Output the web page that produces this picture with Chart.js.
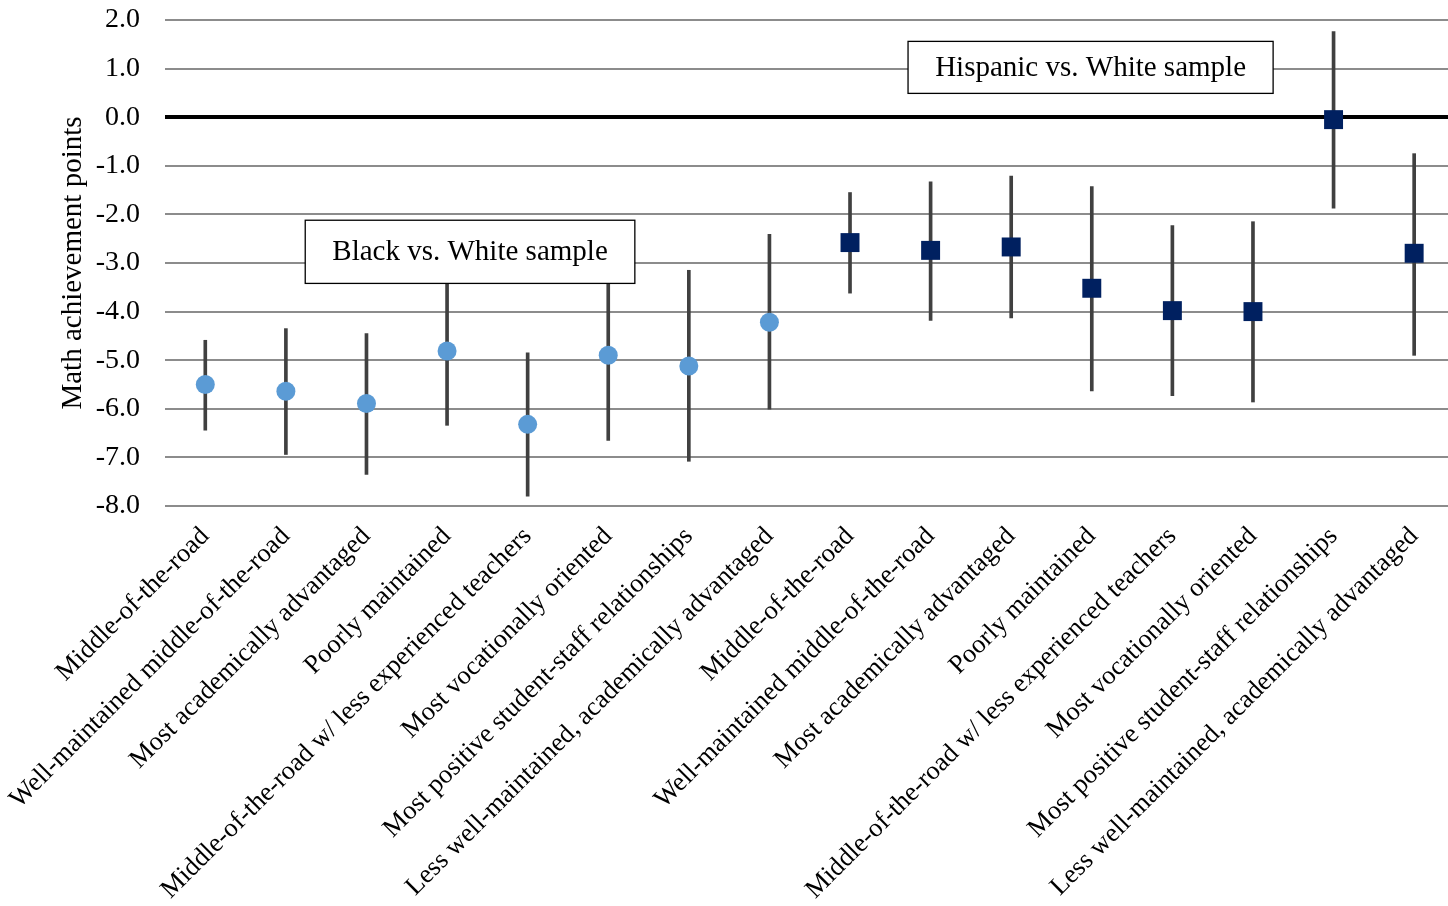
<!DOCTYPE html>
<html>
<head>
<meta charset="utf-8">
<script src="https://cdn.jsdelivr.net/npm/chart.js@4.4.1/dist/chart.umd.min.js"></script>
<style>
  html, body { margin: 0; padding: 0; background: #ffffff; overflow: hidden; }
  #wrap { width: 1448px; height: 906px; position: relative; }
</style>
</head>
<body>
<div id="wrap"><canvas id="chart" width="1448" height="906"></canvas></div>
<script>
// School profile categories (first eight: Black vs. White sample, last eight: Hispanic vs. White sample)
const categories = [
  'Middle-of-the-road',
  'Well-maintained middle-of-the-road',
  'Most academically advantaged',
  'Poorly maintained',
  'Middle-of-the-road w/ less experienced teachers',
  'Most vocationally oriented',
  'Most positive student-staff relationships',
  'Less well-maintained, academically advantaged',
  'Middle-of-the-road',
  'Well-maintained middle-of-the-road',
  'Most academically advantaged',
  'Poorly maintained',
  'Middle-of-the-road w/ less experienced teachers',
  'Most vocationally oriented',
  'Most positive student-staff relationships',
  'Less well-maintained, academically advantaged'
];

// Black vs. White gap estimates and confidence bounds
const blackEstimate = [-5.50, -5.64, -5.89, -4.81, -6.32, -4.90, -5.12, -4.22];
const blackLower    = [-6.44, -6.94, -7.35, -6.34, -7.80, -6.65, -7.08, -6.01];
const blackUpper    = [-4.59, -4.35, -4.45, -3.28, -4.85, -3.15, -3.15, -2.41];

// Hispanic vs. White gap estimates and confidence bounds
const hispanicEstimate = [-2.58, -2.74, -2.67, -3.52, -3.98, -4.00, -0.05, -2.80];
const hispanicLower    = [-3.62, -4.18, -4.13, -5.63, -5.73, -5.86, -1.87, -4.90];
const hispanicUpper    = [-1.55, -1.33, -1.21, -1.43, -2.23, -2.15,  1.76, -0.75];

// Value axis ticks
const yTicks = [2, 1, 0, -1, -2, -3, -4, -5, -6, -7, -8];

const SERIF = "'Liberation Serif', 'Times New Roman', serif";

const blackPoints = blackEstimate.map((v, i) => ({ x: i, y: v }));
const hispanicPoints = hispanicEstimate.map((v, i) => ({ x: i + blackEstimate.length, y: v }));
const intervals = blackLower.map((lo, i) => ({ x: i, y: [lo, blackUpper[i]] }))
  .concat(hispanicLower.map((lo, i) => ({ x: i + blackLower.length, y: [lo, hispanicUpper[i]] })));

// Labelled sample boxes, placed in axis units
const sampleBoxes = [
  { text: 'Black vs. White sample',    x0: 1.24, x1: 5.33,  y0: -2.12, y1: -3.42 },
  { text: 'Hispanic vs. White sample', x0: 8.72, x1: 13.25, y0: 1.56,  y1: 0.49 }
];

const sampleBoxPlugin = {
  id: 'sampleBoxes',
  afterDatasetsDraw(chart) {
    const { ctx, scales: { x, y } } = chart;
    ctx.save();
    sampleBoxes.forEach(b => {
      const left = x.getPixelForValue(b.x0), right = x.getPixelForValue(b.x1);
      const top = y.getPixelForValue(b.y0), bottom = y.getPixelForValue(b.y1);
      ctx.fillStyle = '#ffffff';
      ctx.fillRect(left, top, right - left, bottom - top);
      ctx.strokeStyle = '#000000';
      ctx.lineWidth = 1.3;
      ctx.strokeRect(left, top, right - left, bottom - top);
      ctx.fillStyle = '#000000';
      ctx.font = '29px ' + SERIF;
      ctx.textAlign = 'center';
      ctx.textBaseline = 'middle';
      ctx.fillText(b.text, (left + right) / 2, (top + bottom) / 2 + 1);
    });
    ctx.restore();
  }
};

new Chart(document.getElementById('chart'), {
  type: 'bar',
  data: {
    datasets: [
      {
        type: 'scatter',
        label: 'Black vs. White',
        data: blackPoints,
        pointStyle: 'circle',
        pointRadius: 9.5,
        pointHoverRadius: 9.5,
        backgroundColor: '#5B9BD5',
        borderWidth: 0,
        order: 0
      },
      {
        type: 'scatter',
        label: 'Hispanic vs. White',
        data: hispanicPoints,
        pointStyle: 'rect',
        pointRadius: 13.4,
        pointHoverRadius: 13.4,
        backgroundColor: '#002060',
        borderWidth: 0,
        order: 0
      },
      {
        type: 'bar',
        label: 'Confidence interval',
        data: intervals,
        backgroundColor: '#404040',
        borderWidth: 0,
        barThickness: 3,
        order: 1
      }
    ]
  },
  options: {
    responsive: false,
    animation: false,
    devicePixelRatio: 1,
    layout: { autoPadding: false, padding: { top: 20, right: 0, bottom: 0, left: 0 } },
    plugins: {
      legend: { display: false },
      tooltip: { enabled: false }
    },
    scales: {
      x: {
        type: 'linear',
        offset: false,
        min: -0.5,
        max: 15.42,
        grid: { display: false, drawTicks: false, offset: false },
        border: { display: false },
        afterBuildTicks: scale => { scale.ticks = categories.map((_, i) => ({ value: i })); },
        afterFit: scale => {
          scale.height = 400;
          scale.paddingLeft = 0;
          scale.paddingRight = 0;
        },
        ticks: {
          autoSkip: false,
          minRotation: 45,
          maxRotation: 45,
          padding: 15,
          color: '#000000',
          font: { family: SERIF, size: 26.5 },
          callback: value => categories[value]
        }
      },
      y: {
        min: -8,
        max: 2,
        afterBuildTicks: scale => { scale.ticks = yTicks.map(v => ({ value: v })); },
        afterFit: scale => {
          scale.width = 165;
          scale.paddingTop = 0;
          scale.paddingBottom = 0;
        },
        grid: {
          drawTicks: false,
          color: c => (c.tick && c.tick.value === 0) ? '#000000' : '#8c8c8c',
          lineWidth: c => (c.tick && c.tick.value === 0) ? 4 : 2
        },
        border: { display: false },
        ticks: {
          padding: 25,
          color: '#000000',
          font: { family: SERIF, size: 28 },
          callback: value => value.toFixed(1)
        },
        title: {
          display: true,
          text: 'Math achievement points',
          color: '#000000',
          font: { family: SERIF, size: 29 },
          padding: { top: 56, bottom: 0 }
        }
      }
    }
  },
  plugins: [sampleBoxPlugin]
});
</script>
</body>
</html>
